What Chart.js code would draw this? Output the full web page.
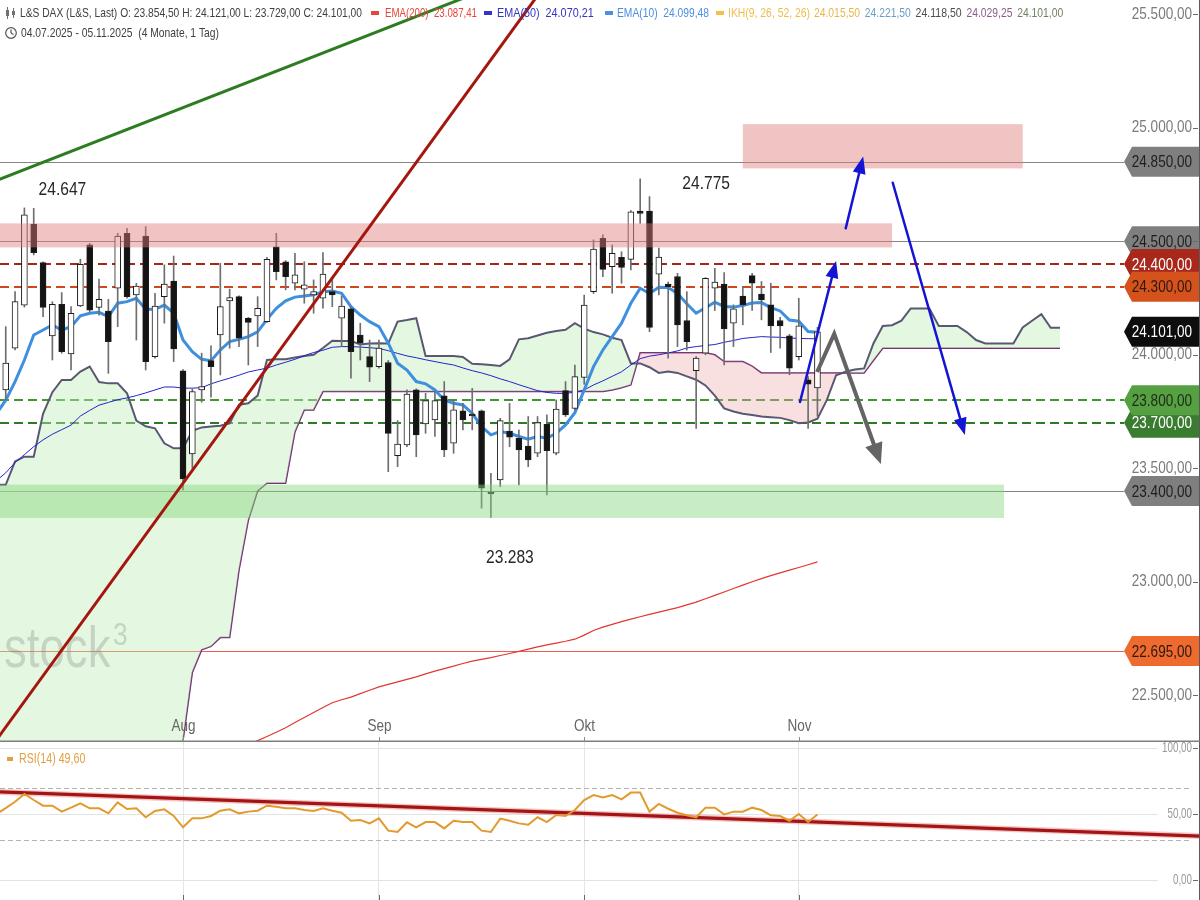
<!DOCTYPE html>
<html lang="de">
<head>
<meta charset="utf-8">
<title>L&amp;S DAX</title>
<script src="https://cdn.jsdelivr.net/npm/chart.js@4.4.1/dist/chart.umd.min.js"></script>
<style>
html,body{margin:0;padding:0;background:#ffffff;overflow:hidden;width:1200px;height:900px;}
#mainWrap{position:absolute;left:0;top:0;width:1200px;height:742px;}
#rsiWrap{position:absolute;left:0;top:742px;width:1200px;height:158px;}
canvas{display:block;}
</style>
</head>
<body>
<div id="mainWrap"><canvas id="mainChart"></canvas></div>
<div id="rsiWrap"><canvas id="rsiChart"></canvas></div>
<script>
const FONT = "'Liberation Sans','Arimo',Arial,sans-serif";
Chart.defaults.font.family = FONT;

// ---------------- data ----------------
const dates = [
'2025-07-04','2025-07-07','2025-07-08','2025-07-09','2025-07-10','2025-07-11','2025-07-14','2025-07-15','2025-07-16','2025-07-17',
'2025-07-18','2025-07-21','2025-07-22','2025-07-23','2025-07-24','2025-07-25','2025-07-28','2025-07-29','2025-07-30','2025-07-31',
'2025-08-01','2025-08-04','2025-08-05','2025-08-06','2025-08-07','2025-08-08','2025-08-11','2025-08-12','2025-08-13','2025-08-14',
'2025-08-15','2025-08-18','2025-08-19','2025-08-20','2025-08-21','2025-08-22','2025-08-25','2025-08-26','2025-08-27','2025-08-28',
'2025-08-29','2025-09-01','2025-09-02','2025-09-03','2025-09-04','2025-09-05','2025-09-08','2025-09-09','2025-09-10','2025-09-11',
'2025-09-12','2025-09-15','2025-09-16','2025-09-17','2025-09-18','2025-09-19','2025-09-22','2025-09-23','2025-09-24','2025-09-25',
'2025-09-26','2025-09-29','2025-09-30','2025-10-01','2025-10-02','2025-10-03','2025-10-06','2025-10-07','2025-10-08','2025-10-09',
'2025-10-10','2025-10-13','2025-10-14','2025-10-15','2025-10-16','2025-10-17','2025-10-20','2025-10-21','2025-10-22','2025-10-23',
'2025-10-24','2025-10-27','2025-10-28','2025-10-29','2025-10-30','2025-10-31','2025-11-03','2025-11-04','2025-11-05'
];

const open = [
23950,23845,24029,24219,24576,24406,24083,24222,24004,24215,
24484,24209,24193,24293,24535,24264,24523,23992,24256,24325,
23929,23563,23845,23974,24087,24237,24256,24161,24171,24146,
24476,24410,24315,24289,24264,24249,24278,24161,24202,24087,
23992,23948,23966,23556,23603,23845,23695,23713,23819,23610,
23753,23738,23753,23393,23449,23664,23632,23598,23566,23694,
23566,23842,23764,23900,24278,24513,24388,24429,24420,24633,
24633,24355,24311,24345,24151,23930,24007,24293,24311,24139,
24259,24349,24267,24220,24151,24083,23992,23890,23854.5
];
const high = [
23990,24124,24278,24647,24645,24410,24234,24274,24212,24421,
24491,24333,24244,24535,24557,24315,24565,24271,24396,24435,
23935,23850,24007,24039,24403,24289,24260,24165,24256,24429,
24535,24415,24447,24410,24330,24450,24330,24260,24212,24139,
24065,24065,23975,23710,23845,23850,23830,23838,23882,23801,
23786,23852,23757,23478,23720,23786,23669,23728,23728,23735,
23801,23882,23955,24263,24506,24528,24484,24454,24635,24775,
24697,24470,24320,24359,24278,23992,24340,24381,24362,24220,
24300,24359,24323,24315,24165,24090,24249,23904,24121
];
const low = [
23760,23801,24021,24210,24440,24168,23977,24007,23933,24212,
24190,24175,23918,24124,24249,24065,23933,23985,24139,23970,
23405,23500,23791,23813,23911,24029,24036,23955,24036,24142,
24330,24286,24286,24227,24183,24205,24212,24036,23897,23977,
23882,23941,23485,23507,23595,23551,23654,23640,23551,23566,
23669,23669,23324,23283,23419,23595,23427,23507,23551,23383,
23559,23728,23757,23870,24270,24344,24271,24315,24374,24579,
24102,24264,23985,24036,24021,23676,24000,24195,23955,24036,
24132,24195,24154,24010,24029,23912,23977,23676,23729
];
const close = [
23790,23963,24234,24616,24450,24209,24222,24014,24183,24399,
24197,24244,24058,24523,24256,24303,23970,24215,24311,24026,
23453,23838,23860,23948,24212,24252,24073,24143,24205,24421,
24366,24344,24352,24308,24278,24356,24264,24215,24014,24051,
23945,24029,23654,23606,23827,23647,23798,23798,23581,23757,
23713,23732,23412,23387,23710,23637,23581,23537,23701,23578,
23761,23735,23904,24219,24466,24376,24447,24385,24630,24623,
24121,24430,24300,24132,24058,23985,24337,24320,24114,24202,
24220,24315,24242,24127,24127,23941,24127,23870,24101
];

const ema10 = [
23740,23800,23882,23977,24087,24109,24131,24109,24124,24172,
24183,24187,24168,24227,24234,24249,24200,24200,24219,24183,
24065,24014,23980,23974,24021,24058,24068,24080,24101,24156,
24205,24238,24254,24259,24264,24278,24281,24271,24212,24175,
24146,24124,24051,23963,23933,23882,23872,23845,23801,23786,
23779,23742,23684,23647,23662,23654,23640,23628,23640,23632,
23654,23691,23745,23845,23948,24021,24080,24139,24227,24293,
24270,24297,24296,24270,24225,24183,24207,24232,24213,24210,
24217,24228,24230,24208,24193,24153,24148,24102,24099.48
];
const ema50 = [
23445,23480,23525,23560,23595,23625,23650,23670,23690,23730,
23755,23778,23790,23802,23810,23820,23832,23845,23858,23858,
23853,23853,23855,23872,23885,23897,23910,23924,23933,23941,
23955,23967,23980,23996,24010,24020,24033,24036,24036,24034,
24031,24028,24018,24006,23995,23987,23978,23970,23962,23955,
23942,23930,23920,23908,23894,23882,23868,23855,23842,23834,
23830,23830,23835,23845,23867,23885,23905,23925,23955,23983,
23994,24000,24008,24017,24030,24036,24041,24045,24055,24063,
24072,24076,24080,24078,24077,24074,24072,24071,24070.21
];
const ema200 = [
null,null,null,null,null,null,null,null,null,null,
null,null,null,null,null,null,null,null,null,null,
null,null,null,null,null,null,22260,22283,22300,22318,
22337,22357,22380,22402,22424,22446,22467,22480,22492,22507,
22522,22537,22548,22559,22570,22581,22594,22606,22617,22628,
22640,22650,22658,22666,22675,22684,22693,22703,22713,22722,
22730,22738,22747,22765,22785,22800,22812,22824,22835,22846,
22856,22866,22876,22886,22898,22910,22925,22940,22955,22970,
22985,23000,23014,23027,23039,23051,23063,23075,23087.41
];

// Ichimoku senkou spans (projected 26 sessions ahead)
const spanA = [
23427,23427,23530,23551,23551,23740,23835,23889,23889,23926,
23948,23880,23874,23874,23830,23710,23685,23676,23610,23588,
23588,23665,23680,23684,23687,23698,23780,23786,23820,23977,
23980,23980,23988,23995,24000,24030,24062,24061,24061,24045,
24050,24051,24050,24146,24153,24161,23995,23995,23995,23995,
23990,23960,23958,23955,23951,23980,24068,24073,24085,24097,
24105,24110,24139,24115,24100,24090,24075,24065,23962,23962,
23945,23920,23926,23920,23905,23890,23865,23820,23764,23750,
23740,23735,23728,23725,23722,23712,23698,23702,23718,23800,
23910,23925,23935,23940,24050,24127,24130,24150,24204,24204,
24204,24127,24127,24127,24100,24065,24050,24050,24050,24050,
24120,24150,24179,24118.5,24118.5
];
const spanB = [
22150,22150,22150,22150,22150,22150,22150,22150,22150,22150,
22150,22150,22150,22150,22150,22150,22150,22150,22150,22200,
22300,22600,22700,22715,22754,22754,23050,23270,23400,23434,
23434,23434,23660,23757,23757,23838,23838,23838,23838,23838,
23838,23838,23838,23838,23838,23838,23838,23838,23838,23838,
23838,23838,23838,23838,23838,23838,23838,23838,23838,23838,
23838,23838,23838,23838,23838,23838,23845,23855,23867,24009,
24009,24009,24009,24009,24009,24009,24009,24000,23970,23970,
23970,23950,23920,23920,23920,23920,23920,23920,23920,23920,
23920,23920,23920,23920,23975,24029,24029,24029,24029,24029,
24029,24029,24029,24029,24029,24029,24029,24029,24029,24029,
24029,24029,24029,24029,24029.25
];
const ikhTenkan = 24015.50;
const ikhKijun = 24221.50;

const rsi = [
50.0,54.5,59.3,65.2,60.6,56.3,56.3,51.8,54.8,58.1,
54.3,54.3,50.5,58.8,53.8,54.3,47.5,52.3,53.5,48.5,
39.9,46.7,46.7,48.5,52.5,53.5,50.5,51.8,52.5,56.3,
55.5,54.3,54.3,53.0,52.3,54.3,52.5,51.0,44.9,45.5,
42.9,46.7,37.4,36.4,43.7,39.9,43.9,43.9,39.1,44.9,
43.9,43.9,37.4,36.4,46.5,44.9,42.9,41.9,47.5,43.9,
49.2,48.5,53.0,60.6,64.4,62.6,64.4,61.1,66.2,66.2,
51.8,57.6,54.0,51.0,49.0,47.5,54.8,54.8,49.7,51.8,
51.8,54.8,53.0,49.0,48.5,44.9,50.0,43.9,49.6
];

const priceTicks = [22500, 23000, 23500, 24000, 24500, 25000, 25500];
const rsiTicks = [0, 50, 100];
const rsiBands = [30, 70];

// chart annotations (in data units: session index / price)
const greyLevels = [24850, 24500, 23400];
const redLevels = [24400, 24300];
const greenLevels = [23800, 23700];
const lowerLevel = 22695;
const resistanceZones = [
  {from: -1, to: 96, lo: 24473, hi: 24579},
  {from: 80, to: 110, lo: 24821, hi: 25016}
];
const supportZone = {from: -1, to: 108, lo: 23281, hi: 23428};
const trendGreen = [[0.386, 24774], [44.86, 25488]];
const trendRed = [[0.386, 22325], [56.1, 25475]];
const rsiTrend = [[0.386, 66.7], [129, 33.3]];
const blueArrows = [
  [[86.13, 23792], [90.0, 24413]],
  [[91.03, 24557], [92.9, 24873]],
  [[96.07, 24758], [103.8, 23647]]
];
const greyPath = [[87.96, 23924], [89.8, 24092], [94.8, 23519]];

// scale ranges
const xMin = 0.386, xMax = 119.57;
const yMin = 22294, yMax = 25563;
const rsiMin = -15.15, rsiMax = 104.55;

// ---------------- helpers ----------------
function de(v, d = 2) {
  const neg = v < 0;
  const parts = Math.abs(v).toFixed(d).split('.');
  const int = parts[0].replace(/\B(?=(\d{3})+(?!\d))/g, '.');
  return (neg ? '-' : '') + (parts[1] ? int + ',' + parts[1] : int);
}
function fmtDate(s) { const p = s.split('-'); return p[2] + '.' + p[1] + '.' + p[0]; }
const monthNames = {'01':'Jan','02':'Feb','03':'Mär','04':'Apr','05':'Mai','06':'Jun','07':'Jul','08':'Aug','09':'Sep','10':'Okt','11':'Nov','12':'Dez'};

const N = dates.length;
const idx = dates.map((_, i) => i);
const monthStarts = idx.filter(i => i > 0 && dates[i].slice(5, 7) !== dates[i - 1].slice(5, 7));

// narrow text: horizontally condensed rendering of a normal sans font
function ntext(ctx, t, x, y, opt) {
  const o = Object.assign({size: 13, sx: 0.82, align: 'left', base: 'middle', color: '#333', maxW: null}, opt || {});
  ctx.save();
  ctx.translate(x, y);
  ctx.scale(o.sx, 1);
  ctx.font = o.size + 'px ' + FONT;
  ctx.textAlign = o.align; ctx.textBaseline = o.base; ctx.fillStyle = o.color;
  if (o.maxW) ctx.fillText(t, 0, 0, o.maxW / o.sx); else ctx.fillText(t, 0, 0);
  ctx.restore();
}

function arrowHead(ctx, x1, y1, x2, y2, len, half, color) {
  const a = Math.atan2(y2 - y1, x2 - x1);
  const bx = x2 - len * Math.cos(a), by = y2 - len * Math.sin(a);
  ctx.beginPath();
  ctx.moveTo(x2, y2);
  ctx.lineTo(bx + half * Math.sin(a), by - half * Math.cos(a));
  ctx.lineTo(bx - half * Math.sin(a), by + half * Math.cos(a));
  ctx.closePath();
  ctx.fillStyle = color;
  ctx.fill();
}

function zeroPad(s) { s.paddingTop = 0; s.paddingBottom = 0; s.paddingLeft = 0; s.paddingRight = 0; }

// ---------------- main chart plugin ----------------
const mainDeco = {
  id: 'mainDeco',
  beforeDatasetsDraw(chart) {
    const {ctx, scales: {y}} = chart;
    const W = 1124;
    ctx.save();
    ctx.beginPath(); ctx.rect(0, 0, W, chart.height); ctx.clip();
    const hline = (v, color, width, dash) => {
      const py = Math.round(y.getPixelForValue(v)) + (width % 2 ? 0.5 : 0);
      ctx.beginPath();
      ctx.setLineDash(dash || []);
      ctx.strokeStyle = color; ctx.lineWidth = width;
      ctx.moveTo(0, py); ctx.lineTo(W, py); ctx.stroke();
    };
    greyLevels.forEach(v => hline(v, '#858585', 1));
    hline(lowerLevel, '#e8604f', 1);
    hline(redLevels[0], '#a4261a', 2, [9, 5]);
    hline(redLevels[1], '#d2461c', 2, [9, 5]);
    hline(greenLevels[0], '#3f9a2e', 2, [9, 5]);
    hline(greenLevels[1], '#2f7a26', 2, [9, 5]);
    ctx.restore();
  },
  afterDatasetsDraw(chart) {
    const {ctx, chartArea: a, scales: {x, y}} = chart;
    const P = p => [x.getPixelForValue(p[0]), y.getPixelForValue(p[1])];

    // watermark
    ntext(ctx, 'stock', 4, 667, {size: 57, sx: 0.8, base: 'alphabetic', color: 'rgba(120,120,120,0.28)'});
    ntext(ctx, '3', 113, 645, {size: 31, sx: 0.85, base: 'alphabetic', color: 'rgba(120,120,120,0.28)'});

    // zones
    ctx.save();
    ctx.beginPath(); ctx.rect(0, 0, 1124, chart.height); ctx.clip();
    const zone = (z, color) => {
      const x0 = x.getPixelForValue(z.from), x1 = x.getPixelForValue(z.to);
      const y0 = y.getPixelForValue(z.hi), y1 = y.getPixelForValue(z.lo);
      ctx.fillStyle = color; ctx.fillRect(x0, y0, x1 - x0, y1 - y0);
    };
    resistanceZones.forEach(z => zone(z, 'rgba(222,124,119,0.45)'));
    zone(supportZone, 'rgba(133,213,124,0.45)');
    ctx.restore();

    // trend lines
    ctx.save();
    ctx.beginPath(); ctx.rect(a.left, a.top, a.right - a.left, a.bottom - a.top); ctx.clip();
    const tline = (pts, color, w) => {
      const [x1, y1] = P(pts[0]), [x2, y2] = P(pts[1]);
      const k = (y2 - y1) / (x2 - x1);
      const xa = a.left - 5, xb = a.right + 5;
      ctx.beginPath(); ctx.strokeStyle = color; ctx.lineWidth = w;
      ctx.moveTo(xa, y1 + k * (xa - x1)); ctx.lineTo(xb, y1 + k * (xb - x1)); ctx.stroke();
    };
    tline(trendGreen, '#2c7d1f', 3);
    tline(trendRed, '#a3170f', 3);
    ctx.restore();

    // arrows
    ctx.save();
    ctx.lineCap = 'round';
    blueArrows.forEach(([s, e]) => {
      const [x1, y1] = P(s), [x2, y2] = P(e);
      const ang = Math.atan2(y2 - y1, x2 - x1);
      ctx.strokeStyle = '#1414d2'; ctx.lineWidth = 2.5;
      ctx.beginPath(); ctx.moveTo(x1, y1);
      ctx.lineTo(x2 - 12 * Math.cos(ang), y2 - 12 * Math.sin(ang)); ctx.stroke();
      arrowHead(ctx, x1, y1, x2, y2, 17, 6.5, '#1414d2');
    });
    const g = greyPath.map(P);
    const ang2 = Math.atan2(g[2][1] - g[1][1], g[2][0] - g[1][0]);
    ctx.strokeStyle = '#646464'; ctx.lineWidth = 4; ctx.lineJoin = 'miter'; ctx.lineCap = 'butt';
    ctx.beginPath(); ctx.moveTo(g[0][0], g[0][1]); ctx.lineTo(g[1][0], g[1][1]);
    ctx.lineTo(g[2][0] - 14 * Math.cos(ang2), g[2][1] - 14 * Math.sin(ang2)); ctx.stroke();
    arrowHead(ctx, g[1][0], g[1][1], g[2][0], g[2][1], 21, 9, '#646464');
    ctx.restore();

    // extreme labels
    const lab = {size: 19, sx: 0.82, align: 'center', color: '#262626'};
    const firstPeak = high.slice(0, 10).reduce((b, v, i, arr) => v > arr[b] ? i : b, 0);
    const topIdx = high.indexOf(Math.max(...high));
    const lowIdx = low.indexOf(Math.min(...low));
    let [px, py] = P([firstPeak, high[firstPeak]]);
    ntext(ctx, de(high[firstPeak], 0), px + 38, py - 18, lab);
    [px, py] = P([topIdx, high[topIdx]]);
    ntext(ctx, de(high[topIdx], 0), px + 66, py + 5, lab);
    [px, py] = P([lowIdx, low[lowIdx]]);
    ntext(ctx, de(low[lowIdx], 0), px + 19, py + 40, lab);
  },
  afterDraw(chart) {
    const {ctx, chartArea: a, scales: {x, y}} = chart;
    ctx.save();
    // axis labels from the library's ticks
    y.ticks.forEach(t => {
      ntext(ctx, de(t.value), 1192, y.getPixelForValue(t.value), {size: 16.5, sx: 0.82, align: 'right', color: '#7b7b7b'});
    });
    // price tags
    const tag = (v, bg, fg) => {
      const yp = y.getPixelForValue(v), h = 30;
      ctx.beginPath();
      ctx.moveTo(1124, yp); ctx.lineTo(1132, yp - h / 2); ctx.lineTo(1200, yp - h / 2);
      ctx.lineTo(1200, yp + h / 2); ctx.lineTo(1132, yp + h / 2); ctx.closePath();
      ctx.fillStyle = bg; ctx.fill();
      ntext(ctx, de(v), 1192, yp + 1, {size: 16.5, sx: 0.82, align: 'right', color: fg});
    };
    tag(greyLevels[0], '#7f7f7f', '#1e1e1e');
    tag(greyLevels[1], '#7f7f7f', '#1e1e1e');
    tag(redLevels[0], '#a8291b', '#ffffff');
    tag(redLevels[1], '#d5521d', '#2a1a10');
    tag(close[N - 1], '#0d0d0d', '#ffffff');
    tag(greenLevels[1], '#3b7d30', '#ffffff');
    tag(greenLevels[0], '#55a040', '#1e2a1a');
    tag(greyLevels[2], '#7f7f7f', '#1e1e1e');
    tag(lowerLevel, '#ee6a2e', '#2a1a10');

    // right tick marks and edge
    ctx.strokeStyle = '#6a6a6a'; ctx.lineWidth = 1;
    y.ticks.forEach(t => {
      const yp = Math.round(y.getPixelForValue(t.value)) + 0.5;
      ctx.beginPath(); ctx.moveTo(1193, yp); ctx.lineTo(1198, yp); ctx.stroke();
    });
    ctx.strokeStyle = '#5a5a5a';
    ctx.beginPath(); ctx.moveTo(1199.5, 0); ctx.lineTo(1199.5, chart.height); ctx.stroke();

    // bottom axis line, month ticks and labels
    ctx.strokeStyle = '#7f7f7f'; ctx.lineWidth = 1.5;
    ctx.beginPath(); ctx.moveTo(0, a.bottom - 0.75); ctx.lineTo(1200, a.bottom - 0.75); ctx.stroke();
    ctx.lineWidth = 1; ctx.strokeStyle = '#8a8a8a';
    monthStarts.forEach(i => {
      const xp = Math.round(x.getPixelForValue(i)) + 0.5;
      ctx.beginPath(); ctx.moveTo(xp, a.bottom - 5); ctx.lineTo(xp, a.bottom); ctx.stroke();
      ntext(ctx, monthNames[dates[i].slice(5, 7)], xp, a.bottom - 16, {size: 16.5, sx: 0.82, align: 'center', color: '#666'});
    });

    // header
    const H = (t, x0, yy, maxW, color) => ntext(ctx, t, x0, yy, {size: 13.5, sx: 0.8, maxW: maxW, color: color});
    const dash = (x0, color) => { ctx.fillStyle = color; ctx.fillRect(x0, 11, 8, 4); };
    // candle icon
    ctx.strokeStyle = '#707070'; ctx.lineWidth = 1;
    ctx.beginPath(); ctx.moveTo(7.5, 7); ctx.lineTo(7.5, 19); ctx.moveTo(13.5, 8); ctx.lineTo(13.5, 18); ctx.stroke();
    ctx.fillStyle = '#707070'; ctx.fillRect(6, 10, 3, 6); ctx.fillRect(12, 11, 3, 4);
    H('L&S DAX (L&S, Last) O: ' + de(open[N - 1]) + ' H: ' + de(high[N - 1]) + ' L: ' + de(low[N - 1]) + ' C: ' + de(close[N - 1]), 20, 13, 342, '#404040');
    dash(371, '#e8443a'); H('EMA(200)  ' + de(ema200[N - 1]), 385, 13, 92, '#e8443a');
    dash(484, '#3535c0'); H('EMA(50)  ' + de(ema50[N - 1]), 497, 13, 101, '#3535c0');
    dash(605, '#4a8fe0'); H('EMA(10)  ' + de(ema10[N - 1]), 617, 13, 92, '#4a8fe0');
    dash(716, '#f2c04a'); H('IKH(9, 26, 52, 26)', 728, 13, 82, '#efbd4a');
    const ikh = [[ikhTenkan, '#e9b54b'], [ikhKijun, '#6b9dc2'], [spanA[spanA.length - 1], '#4d4d4d'], [spanB[spanB.length - 1], '#8c5b8c'], [close[N - 1], '#718262']];
    ikh.forEach((it, k) => H(de(it[0]), 814 + k * 50.8, 13, 46, it[1]));
    // clock icon
    ctx.strokeStyle = '#555'; ctx.lineWidth = 1.2;
    ctx.beginPath(); ctx.arc(11, 33, 5.3, 0, Math.PI * 2); ctx.stroke();
    ctx.beginPath(); ctx.moveTo(11, 33); ctx.lineTo(11, 29.5); ctx.moveTo(11, 33); ctx.lineTo(13.5, 34.5); ctx.stroke();
    H(fmtDate(dates[0]) + ' - ' + fmtDate(dates[N - 1]) + '  (4 Monate, 1 Tag)', 21, 33, 198, '#404040');
    ctx.restore();
  }
};

// ---------------- main chart ----------------
const pts = arr => arr.map((v, i) => ({x: i, y: v}));

new Chart(document.getElementById('mainChart'), {
  type: 'bar',
  data: {
    datasets: [
      {
        type: 'bar', label: 'Kerzenkörper',
        data: idx.map(i => ({x: i, y: [open[i], close[i]]})),
        backgroundColor: idx.map(i => close[i] >= open[i] ? '#ffffff' : '#141414'),
        borderColor: '#1c1c1c', borderWidth: 1, borderSkipped: false,
        barThickness: 6, grouped: false, minBarLength: 1.5, order: 0
      },
      {
        type: 'bar', label: 'Dochte',
        data: idx.map(i => ({x: i, y: [low[i], high[i]]})),
        backgroundColor: '#6e6e6e', barThickness: 1, grouped: false, order: 1
      },
      { type: 'line', label: 'EMA(10)', data: pts(ema10), borderColor: '#3f8fe0', borderWidth: 3, pointRadius: 0, tension: 0, fill: false, order: 2 },
      { type: 'line', label: 'EMA(50)', data: pts(ema50), borderColor: '#2323c8', borderWidth: 1, pointRadius: 0, tension: 0, fill: false, order: 3 },
      { type: 'line', label: 'EMA(200)', data: pts(ema200), borderColor: '#e2372f', borderWidth: 1.2, pointRadius: 0, tension: 0, fill: false, order: 4 },
      { type: 'line', label: 'Senkou A', data: pts(spanA), borderColor: '#585872', borderWidth: 2, pointRadius: 0, tension: 0, order: 5,
        fill: {target: 6, above: 'rgba(190,235,180,0.42)', below: 'rgba(238,170,170,0.36)'} },
      { type: 'line', label: 'Senkou B', data: pts(spanB), borderColor: '#6d2570', borderWidth: 1.5, pointRadius: 0, tension: 0, fill: false, order: 6 }
    ]
  },
  options: {
    responsive: true, maintainAspectRatio: false, animation: false,
    layout: {padding: {left: 0, right: 8, top: 0, bottom: 0}, autoPadding: false},
    plugins: {legend: {display: false}, tooltip: {enabled: false}},
    events: [],
    scales: {
      x: {type: 'linear', min: xMin, max: xMax, display: false, offset: false},
      y: {
        type: 'linear', position: 'right', min: yMin, max: yMax,
        afterFit: s => { s.width = 80; zeroPad(s); },
        afterBuildTicks: s => { s.ticks = priceTicks.map(v => ({value: v})); },
        grid: {display: false}, border: {display: false},
        ticks: {display: false, callback: v => de(v)}
      }
    }
  },
  plugins: [mainDeco]
});

// ---------------- RSI chart ----------------
const rsiDeco = {
  id: 'rsiDeco',
  beforeDatasetsDraw(chart) {
    const {ctx, scales: {x, y}} = chart;
    ctx.save();
    ctx.lineWidth = 1;
    rsiTicks.forEach(v => {
      const yp = Math.round(y.getPixelForValue(v)) + 0.5;
      ctx.strokeStyle = '#e3e3e3';
      ctx.beginPath(); ctx.moveTo(0, yp); ctx.lineTo(1158, yp); ctx.stroke();
    });
    ctx.setLineDash([5, 3]); ctx.strokeStyle = '#b3b3b3';
    rsiBands.forEach(v => {
      const yp = Math.round(y.getPixelForValue(v)) + 0.5;
      ctx.beginPath(); ctx.moveTo(0, yp); ctx.lineTo(1192, yp); ctx.stroke();
    });
    ctx.setLineDash([]);
    const [p, q] = rsiTrend;
    const x1 = x.getPixelForValue(p[0]), y1 = y.getPixelForValue(p[1]);
    const x2 = x.getPixelForValue(q[0]), y2 = y.getPixelForValue(q[1]);
    const k = (y2 - y1) / (x2 - x1);
    const ya = y1 + k * (0 - x1), yb = y1 + k * (1200 - x1);
    ctx.strokeStyle = 'rgba(225,90,90,0.35)'; ctx.lineWidth = 6;
    ctx.beginPath(); ctx.moveTo(0, ya); ctx.lineTo(1200, yb); ctx.stroke();
    ctx.strokeStyle = '#a31515'; ctx.lineWidth = 3.2;
    ctx.beginPath(); ctx.moveTo(0, ya); ctx.lineTo(1200, yb); ctx.stroke();
    ctx.restore();
  },
  afterDraw(chart) {
    const {ctx, chartArea: a, scales: {x, y}} = chart;
    ctx.save();
    y.ticks.forEach(t => {
      ntext(ctx, de(t.value), 1192, y.getPixelForValue(t.value), {size: 14, sx: 0.7, align: 'right', color: '#9a9a9a'});
    });
    ctx.fillStyle = '#e2a043'; ctx.fillRect(7, 15, 6, 4);
    ntext(ctx, 'RSI(14) ' + de(rsi[N - 1]), 19, 17, {size: 15, sx: 0.71, color: '#e2a043'});
    ctx.strokeStyle = '#6a6a6a'; ctx.lineWidth = 1;
    y.ticks.forEach(t => {
      const yp = Math.round(y.getPixelForValue(t.value)) + 0.5;
      ctx.beginPath(); ctx.moveTo(1193, yp); ctx.lineTo(1198, yp); ctx.stroke();
    });
    monthStarts.forEach(i => {
      const xp = Math.round(x.getPixelForValue(i)) + 0.5;
      ctx.beginPath(); ctx.moveTo(xp, a.bottom - 5); ctx.lineTo(xp, a.bottom); ctx.stroke();
    });
    ctx.strokeStyle = '#5a5a5a';
    ctx.beginPath(); ctx.moveTo(1199.5, 0); ctx.lineTo(1199.5, chart.height); ctx.stroke();
    ctx.restore();
  }
};

new Chart(document.getElementById('rsiChart'), {
  type: 'line',
  data: {
    datasets: [
      { label: 'RSI(14)', data: pts(rsi), borderColor: '#e39a2d', borderWidth: 2, pointRadius: 0, tension: 0, fill: false }
    ]
  },
  options: {
    responsive: true, maintainAspectRatio: false, animation: false,
    layout: {padding: {left: 0, right: 8, top: 0, bottom: 0}, autoPadding: false},
    plugins: {legend: {display: false}, tooltip: {enabled: false}},
    events: [],
    scales: {
      x: {
        type: 'linear', min: xMin, max: xMax, offset: false,
        afterBuildTicks: s => { s.ticks = monthStarts.map(v => ({value: v})); },
        afterFit: s => { s.height = 0; zeroPad(s); },
        ticks: {display: false},
        grid: {color: '#e4e4e4', drawTicks: false}, border: {display: false}
      },
      y: {
        type: 'linear', position: 'right', min: rsiMin, max: rsiMax,
        afterFit: s => { s.width = 80; zeroPad(s); },
        afterBuildTicks: s => { s.ticks = rsiTicks.map(v => ({value: v})); },
        grid: {display: false}, border: {display: false},
        ticks: {display: false, callback: v => de(v)}
      }
    }
  },
  plugins: [rsiDeco]
});
</script>
</body>
</html>
